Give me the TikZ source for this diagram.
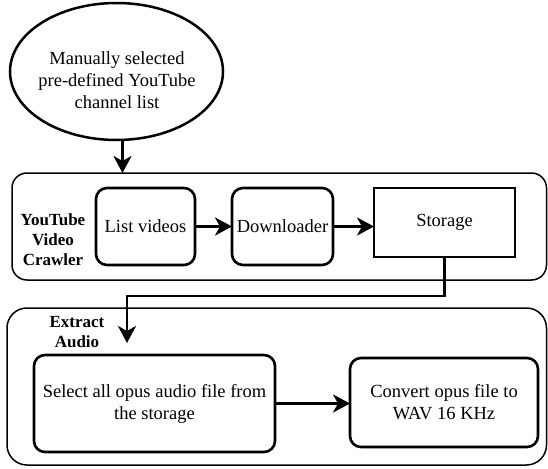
\documentclass[tikz,border=0pt]{standalone}
\usepackage{fontspec}
\setmainfont{Liberation Serif}
\usetikzlibrary{arrows.meta,shapes.geometric}
\begin{document}
\begin{tikzpicture}[x=1pt,y=-1pt,
  every node/.style={font=\fontsize{18.5}{22}\selectfont, align=center, inner sep=0pt, outer sep=0pt},
  proc/.style={draw, line width=2.6pt, rounded corners=11pt},
  storebox/.style={draw, line width=2.6pt},
  cont/.style={draw, line width=1.5pt},
  arr/.style={line width=2.6pt, -{Stealth[length=17pt,width=18pt,inset=5pt]}},
  lab/.style={font=\bfseries\fontsize{17}{20}\selectfont}]
\useasboundingbox (0,0) rectangle (548,468);
% containers
\node[cont, rounded corners=15pt, minimum width=534.5pt, minimum height=107pt] (crawler) at (279.25,226.5) {};
\node[cont, rounded corners=20pt, minimum width=539.5pt, minimum height=157pt] (extract) at (276.75,386.5) {};
% source ellipse
\node[draw, ellipse, line width=2.5pt, minimum width=213pt, minimum height=137pt] (ell) at (116.5,71.5) {};
\node (elltxt) at (117,80) {Manually selected\\pre-defined YouTube\\channel list};
% crawler steps
\node[proc, minimum width=99pt, minimum height=77pt] (list) at (145.5,226.5) {List videos};
\node[proc, minimum width=101pt, minimum height=77pt] (dl) at (282.5,226.5) {Downloader};
\node[storebox, minimum width=141pt, minimum height=69pt] (st) at (444.5,222.5) {Storage};
\node[lab] (crl) at (53,240) {YouTube\\Video\\Crawler};
% extract steps
\node[proc, minimum width=241pt, minimum height=97pt] (sel) at (154.5,403.5) {Select all opus audio file from\\the storage};
\node[proc, minimum width=188pt, minimum height=89pt] (conv) at (444,402.5) {Convert opus file to\\WAV 16 KHz};
\node[lab] (exl) at (77,332) {Extract\\Audio};
\coordinate (in2) at (127,343);
% connectors
\draw[arr] ([xshift=6pt]ell.south) -- ([xshift=6pt]ell.south |- crawler.north);
\draw[arr] (list.east) -- (dl.west);
\draw[arr] (dl.east) -- (dl.east -| st.west);
\draw[arr] (st.south) -- ++(0,39) -| (in2);
\draw[arr] (sel.east) -- (sel.east -| conv.west);
\end{tikzpicture}
\end{document}
